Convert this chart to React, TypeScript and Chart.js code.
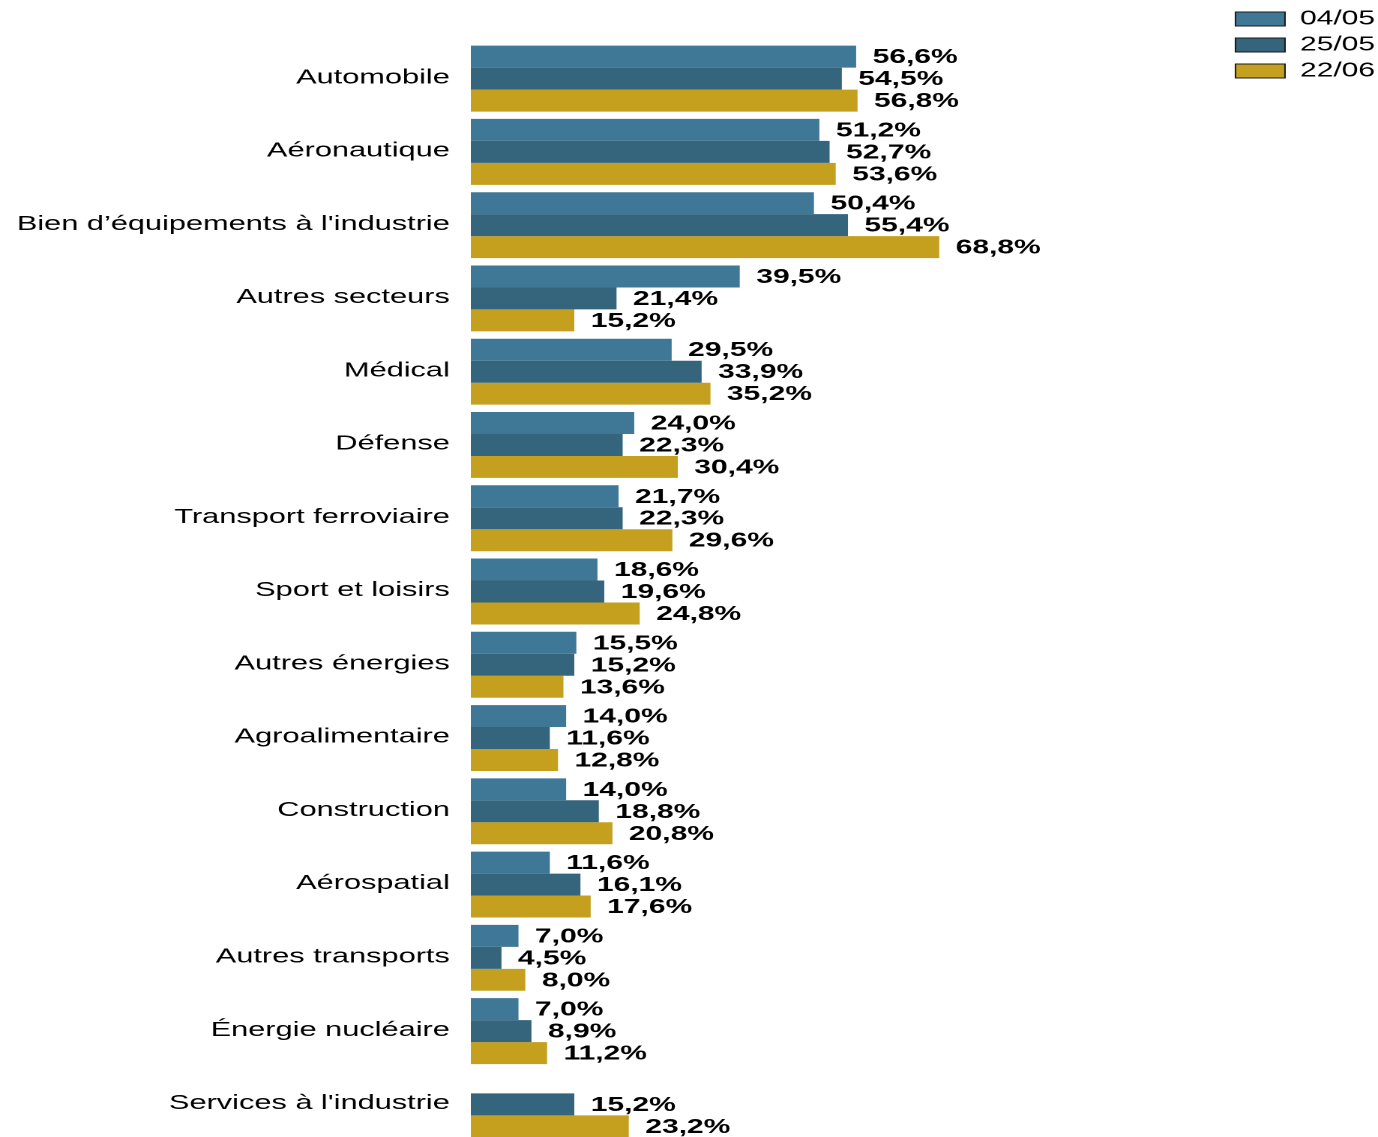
import React, { useEffect, useRef } from "react";
import { Chart, registerables } from "chart.js";

Chart.register(...registerables);

const categories = [
  "Automobile",
  "Aéronautique",
  "Bien d’équipements à l'industrie",
  "Autres secteurs",
  "Médical",
  "Défense",
  "Transport ferroviaire",
  "Sport et loisirs",
  "Autres énergies",
  "Agroalimentaire",
  "Construction",
  "Aérospatial",
  "Autres transports",
  "Énergie nucléaire",
  "Services à l'industrie",
];

const seriesLabels = ["04/05", "25/05", "22/06"];

const values0405: (number | null)[] = [56.6, 51.2, 50.4, 39.5, 29.5, 24.0, 21.7, 18.6, 15.5, 14.0, 14.0, 11.6, 7.0, 7.0, null];
const values2505: (number | null)[] = [54.5, 52.7, 55.4, 21.4, 33.9, 22.3, 22.3, 19.6, 15.2, 11.6, 18.8, 16.1, 4.5, 8.9, 15.2];
const values2206: (number | null)[] = [56.8, 53.6, 68.8, 15.2, 35.2, 30.4, 29.6, 24.8, 13.6, 12.8, 20.8, 17.6, 8.0, 11.2, 23.2];

const seriesColors = ["#3F7896", "#35657D", "#C4A01E"];

const LOGICAL_W = 919;
const CANVAS_H = 1141;
const VIEW_H = 1137;
const DISPLAY_W = 1378;
const RIGHT_PAD = -8;

export default function App() {
  const ref = useRef<HTMLCanvasElement | null>(null);

  useEffect(() => {
    if (!ref.current) return;
    Chart.defaults.font.family = "'Liberation Sans', Arial, sans-serif";
    const valueLabels = {
      id: "valueLabels",
      afterDatasetsDraw(chart: any) {
        const ctx = chart.ctx;
        ctx.save();
        ctx.font = "bold 20px 'Liberation Sans', Arial, sans-serif";
        ctx.fillStyle = "#000";
        ctx.textAlign = "left";
        ctx.textBaseline = "middle";
        chart.data.datasets.forEach((ds: any, di: number) => {
          const meta = chart.getDatasetMeta(di);
          meta.data.forEach((el: any, i: number) => {
            const v = ds.data[i];
            if (v === null || v === undefined) return;
            const txt = v.toFixed(1).replace(".", ",") + "%";
            ctx.fillText(txt, el.x + 11, el.y + 1);
          });
        });
        ctx.restore();
      },
    };

    const fixPad = (scale: any) => {
      scale.paddingTop = 0;
      scale.paddingBottom = 0;
      scale.paddingLeft = 0;
      scale.paddingRight = RIGHT_PAD;
    };

    const chart = new Chart(ref.current, {
      type: "bar",
      data: {
        labels: categories,
        datasets: [
          { label: seriesLabels[0], data: values0405, backgroundColor: seriesColors[0] },
          { label: seriesLabels[1], data: values2505, backgroundColor: seriesColors[1] },
          { label: seriesLabels[2], data: values2206, backgroundColor: seriesColors[2] },
        ],
      },
      options: {
        indexAxis: "y",
        animation: false,
        responsive: false,
        devicePixelRatio: 2,
        layout: { padding: { top: 3, bottom: 0, left: 0, right: RIGHT_PAD } },
        datasets: {
          bar: { categoryPercentage: 0.9, barPercentage: 1.0 },
        },
        scales: {
          x: {
            position: "top",
            min: 0,
            max: 111,
            grid: { display: false, drawTicks: false },
            border: { display: false },
            ticks: { display: false },
            afterFit: (scale: any) => {
              scale.height = 39;
              fixPad(scale);
            },
          },
          y: {
            grid: { display: false, drawTicks: false },
            border: { display: false },
            ticks: {
              color: "#000",
              padding: 14,
              labelOffset: -1,
              font: { size: 20.5 },
            },
            afterFit: (scale: any) => {
              scale.width = 314;
              fixPad(scale);
            },
          },
        },
        plugins: {
          legend: {
            position: "right",
            align: "start",
            labels: {
              boxWidth: 33,
              boxHeight: 14,
              padding: 6,
              color: "#000",
              font: { size: 20 },
              generateLabels: (c: any) =>
                Chart.defaults.plugins.legend.labels.generateLabels(c).map((l: any) => ({
                  ...l,
                  strokeStyle: "#1a1a1a",
                  lineWidth: 1,
                })),
            },
          },
          tooltip: { enabled: false },
        },
      },
      plugins: [valueLabels],
    });
    return () => chart.destroy();
  }, []);

  return (
    <div
      style={{
        position: "absolute",
        left: 0,
        top: 0,
        width: DISPLAY_W,
        height: VIEW_H,
        overflow: "hidden",
        background: "#fff",
      }}
    >
      <canvas
        ref={ref}
        width={LOGICAL_W}
        height={CANVAS_H}
        style={{ width: DISPLAY_W + "px", height: CANVAS_H + "px", display: "block" }}
      />
    </div>
  );
}
